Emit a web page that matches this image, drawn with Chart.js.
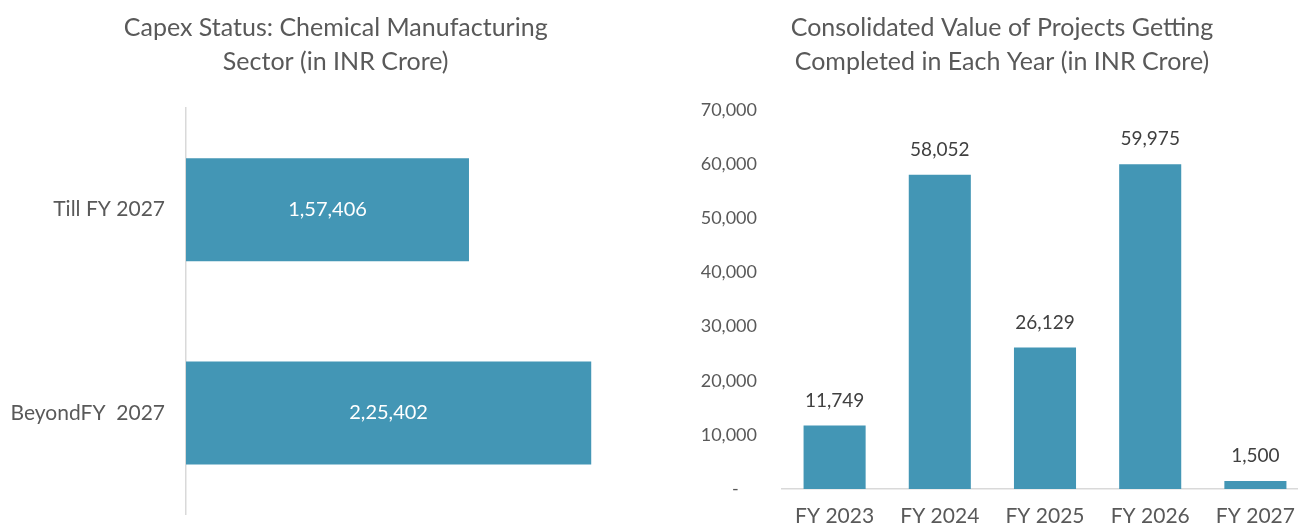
<!DOCTYPE html>
<html>
<head>
<meta charset="utf-8">
<script src="https://cdn.jsdelivr.net/npm/chart.js@4.4.1/dist/chart.umd.min.js"></script>
<style>
  html, body { margin: 0; padding: 0; width: 1298px; height: 524px; overflow: hidden; background: #ffffff; }
  #wrapLeft { position: absolute; left: 0; top: 0; width: 690px; height: 524px; }
  #wrapRight { position: absolute; left: 650px; top: 0; width: 670px; height: 540px; }
</style>
</head>
<body>
<div id="wrapLeft"><canvas id="capexStatus"></canvas></div>
<div id="wrapRight"><canvas id="yearlyCompletion"></canvas></div>
<script>
// Capex status split
const statusCategories = ['Till FY 2027', 'BeyondFY  2027'];
const statusValues = [157406, 225402];

// Project value completed per year
const yearCategories = ['FY 2023', 'FY 2024', 'FY 2025', 'FY 2026', 'FY 2027'];
const yearValues = [11749, 58052, 26129, 59975, 1500];
const yearTicks = [0, 10000, 20000, 30000, 40000, 50000, 60000, 70000];

const BAR_COLOR = '#4396B5';
const TEXT_GRAY = '#595959';
const FONT = 'Lato, "Open Sans", sans-serif';

// Indian digit grouping: 1,57,406 / 11,749
function groupIndian(n) {
  const s = String(Math.round(n));
  if (s.length <= 3) return s;
  const last3 = s.slice(-3);
  const rest = s.slice(0, -3).replace(/\B(?=(\d{2})+(?!\d))/g, ',');
  return rest + ',' + last3;
}

function valueLabelPlugin(cfg) {
  return {
    id: 'valueLabels',
    afterDatasetsDraw(chart) {
      const ctx = chart.ctx;
      const meta = chart.getDatasetMeta(0);
      const values = chart.data.datasets[0].data;
      ctx.save();
      ctx.font = cfg.font;
      ctx.fillStyle = cfg.color;
      ctx.textAlign = 'center';
      ctx.textBaseline = 'middle';
      meta.data.forEach((bar, i) => {
        const text = groupIndian(values[i]);
        if (cfg.inside) {
          ctx.fillText(text, (bar.x + bar.base) / 2, bar.y);
        } else {
          ctx.fillText(text, bar.x, bar.y - cfg.offset);
        }
      });
      ctx.restore();
    }
  };
}

Chart.defaults.font.family = FONT;
Chart.defaults.color = TEXT_GRAY;

new Chart(document.getElementById('capexStatus'), {
  type: 'bar',
  data: {
    labels: statusCategories,
    datasets: [{
      data: statusValues,
      backgroundColor: BAR_COLOR,
      borderWidth: 0,
      barPercentage: 0.507,
      categoryPercentage: 1.0
    }]
  },
  options: {
    indexAxis: 'y',
    responsive: true,
    maintainAspectRatio: false,
    animation: false,
    layout: { padding: { left: 0, right: 18.6, top: 0, bottom: 9.3 } },
    plugins: {
      legend: { display: false },
      tooltip: { enabled: false },
      title: {
        display: true,
        text: ['Capex Status: Chemical Manufacturing', 'Sector (in INR Crore)'],
        color: TEXT_GRAY,
        font: { size: 25, weight: 'normal', lineHeight: '34px' },
        padding: { top: 11, bottom: 29 }
      }
    },
    scales: {
      x: {
        display: false,
        min: 0,
        max: 270000
      },
      y: {
        afterFit(scale) {
          scale.width = 186;
          scale.paddingTop = 0;
          scale.paddingBottom = 0;
        },
        grid: { display: false, drawTicks: false },
        border: { display: true, color: '#d9d9d9', width: 1.5 },
        ticks: { color: TEXT_GRAY, font: { size: 21 }, padding: 21 }
      }
    }
  },
  plugins: [valueLabelPlugin({ inside: true, font: '20px ' + FONT, color: '#ffffff' })]
});

new Chart(document.getElementById('yearlyCompletion'), {
  type: 'bar',
  data: {
    labels: yearCategories,
    datasets: [{
      data: yearValues,
      backgroundColor: BAR_COLOR,
      borderWidth: 0,
      barPercentage: 0.59,
      categoryPercentage: 1.0
    }]
  },
  options: {
    responsive: true,
    maintainAspectRatio: false,
    animation: false,
    layout: { padding: { left: 46, right: 12, top: 0, bottom: 13 } },
    plugins: {
      legend: { display: false },
      tooltip: { enabled: false },
      title: {
        display: true,
        text: ['Consolidated Value of Projects Getting', 'Completed in Each Year (in INR Crore)'],
        color: TEXT_GRAY,
        font: { size: 25, weight: 'normal', lineHeight: '34px' },
        padding: { top: 11, bottom: 31 }
      }
    },
    scales: {
      x: {
        afterFit(scale) { scale.height = 38; },
        grid: { display: false, drawTicks: false },
        border: { display: true, color: '#d9d9d9', width: 1.5 },
        ticks: { color: TEXT_GRAY, font: { size: 21 }, padding: 15 }
      },
      y: {
        min: 0,
        max: 70000,
        afterFit(scale) { scale.width = 86; },
        afterBuildTicks(scale) { scale.ticks = yearTicks.map(v => ({ value: v })); },
        grid: { display: false, drawTicks: false },
        border: { display: false },
        ticks: {
          color: TEXT_GRAY,
          font: { size: 18 },
          padding: 25,
          callback: (v) => (v === 0 ? '-    ' : groupIndian(v))
        }
      }
    }
  },
  plugins: [valueLabelPlugin({ inside: false, offset: 25, font: '19px ' + FONT, color: '#404040' })]
});
</script>
</body>
</html>
